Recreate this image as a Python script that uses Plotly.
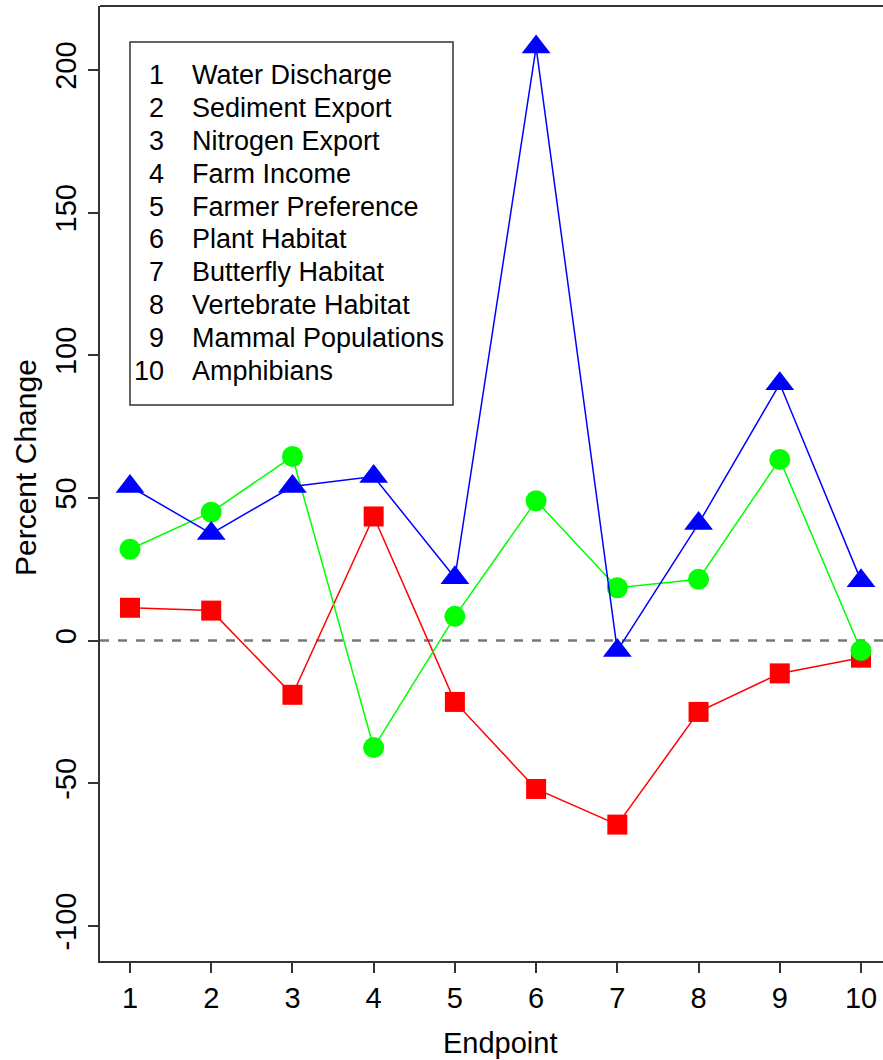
import plotly.graph_objects as go

endpoints = [1, 2, 3, 4, 5, 6, 7, 8, 9, 10]
blue_vals = [54, 37.5, 54, 57.5, 22, 208, -3.5, 41, 90, 21]
green_vals = [32, 45, 64.5, -37.5, 8.5, 49, 18.5, 21.5, 63.5, -3.5]
red_vals = [11.5, 10.5, -19, 43.5, -21.5, -52, -64.5, -25, -11.5, -6]
legend_nums = ["1", "2", "3", "4", "5", "6", "7", "8", "9", "10"]
legend_labels = ["Water Discharge", "Sediment Export", "Nitrogen Export", "Farm Income",
                 "Farmer Preference", "Plant Habitat", "Butterfly Habitat",
                 "Vertebrate Habitat", "Mammal Populations", "Amphibians"]
y_ticks = [-100, -50, 0, 50, 100, 150, 200]

W, H = 883, 1060
L, R, T, B = 100, 883, 6, 961
FONT = "Liberation Sans, Arial, sans-serif"

fig = go.Figure()
fig.add_trace(go.Scatter(x=endpoints, y=red_vals, mode="lines+markers",
                         line=dict(color="#FF0000", width=1.5),
                         marker=dict(symbol="square", size=20, color="#FF0000")))
fig.add_trace(go.Scatter(x=endpoints, y=green_vals, mode="lines+markers",
                         line=dict(color="#00FF00", width=1.5),
                         marker=dict(symbol="circle", size=21, color="#00FF00")))
fig.add_trace(go.Scatter(x=endpoints, y=blue_vals, mode="lines+markers",
                         line=dict(color="#0000FF", width=1.5),
                         marker=dict(symbol="triangle-up", size=25, color="#0000FF")))

def px2paper_x(px):
    return (px - L) / (R - L)

def px2paper_y(py):
    return (B - py) / (B - T)

shapes = [
    dict(type="line", xref="paper", yref="y", x0=0, x1=1, y0=0, y1=0,
         line=dict(color="#777777", width=2.5, dash="9px,9px"), layer="below"),
    dict(type="line", xref="paper", yref="paper", x0=0, x1=1, y0=1, y1=1,
         line=dict(color="#333333", width=2)),
    dict(type="rect", xref="paper", yref="paper",
         x0=px2paper_x(130), x1=px2paper_x(453), y0=px2paper_y(405), y1=px2paper_y(42),
         line=dict(color="#333333", width=1.5), fillcolor="rgba(0,0,0,0)"),
]

annotations = []
row0, dy = 75, 32.9
for i, (n, lab) in enumerate(zip(legend_nums, legend_labels)):
    yy = px2paper_y(row0 + i * dy)
    annotations.append(dict(xref="paper", yref="paper", x=px2paper_x(166), y=yy,
                            text=n, showarrow=False, xanchor="right", yanchor="middle",
                            font=dict(family=FONT, size=27, color="black")))
    annotations.append(dict(xref="paper", yref="paper", x=px2paper_x(190), y=yy,
                            text=lab, showarrow=False, xanchor="left", yanchor="middle",
                            font=dict(family=FONT, size=27, color="black")))

annotations.append(dict(xref="paper", yref="paper", x=px2paper_x(500), y=px2paper_y(1043),
                        text="Endpoint", showarrow=False, xanchor="center", yanchor="middle",
                        font=dict(family=FONT, size=29, color="black")))
annotations.append(dict(xref="paper", yref="paper", x=px2paper_x(25), y=px2paper_y(468),
                        text="Percent Change", showarrow=False, textangle=-90,
                        xanchor="center", yanchor="middle",
                        font=dict(family=FONT, size=30, color="black")))

x_per = (861 - 130) / 9.0
x_lo = 1 - (130 - L) / x_per
x_hi = 10 + (R - 861) / x_per

fig.update_layout(
    width=W, height=H,
    margin=dict(l=L, r=W - R, t=T, b=H - B, pad=0),
    paper_bgcolor="white", plot_bgcolor="white",
    showlegend=False,
    shapes=shapes, annotations=annotations,
    xaxis=dict(range=[x_lo, x_hi], tickvals=endpoints, ticktext=[str(v) for v in endpoints],
               ticks="outside", ticklen=10, tickwidth=1.5, tickcolor="#333333",
               showline=True, linecolor="#333333", linewidth=2,
               showgrid=False, zeroline=False,
               tickfont=dict(family=FONT, size=29, color="black")),
    yaxis=dict(range=[-112.3, 222.4], tickvals=y_ticks, ticktext=[str(v) for v in y_ticks],
               ticks="outside", ticklen=10, tickwidth=1.5, tickcolor="#333333",
               showline=True, linecolor="#333333", linewidth=2,
               showgrid=False, zeroline=False, tickangle=-90,
               tickfont=dict(family=FONT, size=29, color="black")),
)

fig.write_html("out.html", config={"displayModeBar": False},
               post_script="document.body.style.margin='0';document.body.style.overflow='hidden';")
